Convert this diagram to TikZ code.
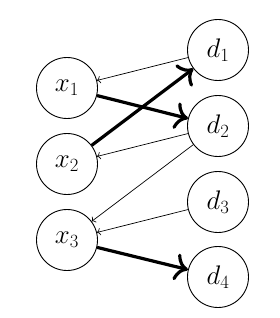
\documentclass[tikz,border=0pt]{standalone}
\usetikzlibrary{arrows.meta}
\begin{document}
\begin{tikzpicture}[x=1pt,y=-1pt,
  var/.style={circle,draw,line width=0.9pt,minimum size=61pt,inner sep=0pt,font=\fontsize{25}{30}\selectfont},
  thinarr/.style={-{To[scale=1.1]},line width=0.7pt},
  thickarr/.style={-{To[scale=1.5]},line width=3.2pt}]
\useasboundingbox (0,0) rectangle (280,318);
\node[var] (x1) at (67,88) {\scalebox{1.08}{$x_1$}};
\node[var] (x2) at (67,164) {\scalebox{1.08}{$x_2$}};
\node[var] (x3) at (67,240) {\scalebox{1.08}{$x_3$}};
\node[var] (d1) at (218,50) {\scalebox{1.08}{$d_1$}};
\node[var] (d2) at (218,126) {\scalebox{1.08}{$d_2$}};
\node[var] (d3) at (218,202) {\scalebox{1.08}{$d_3$}};
\node[var] (d4) at (218,277) {\scalebox{1.08}{$d_4$}};
\draw[thinarr] (d1) -- (x1);
\draw[thinarr] (d2) -- (x2);
\draw[thinarr] (d2) -- (x3);
\draw[thinarr] (d3) -- (x3);
\draw[thickarr] (x1) -- (d2);
\draw[thickarr] (x2) -- (d1);
\draw[thickarr] (x3) -- (d4);
\end{tikzpicture}
\end{document}
